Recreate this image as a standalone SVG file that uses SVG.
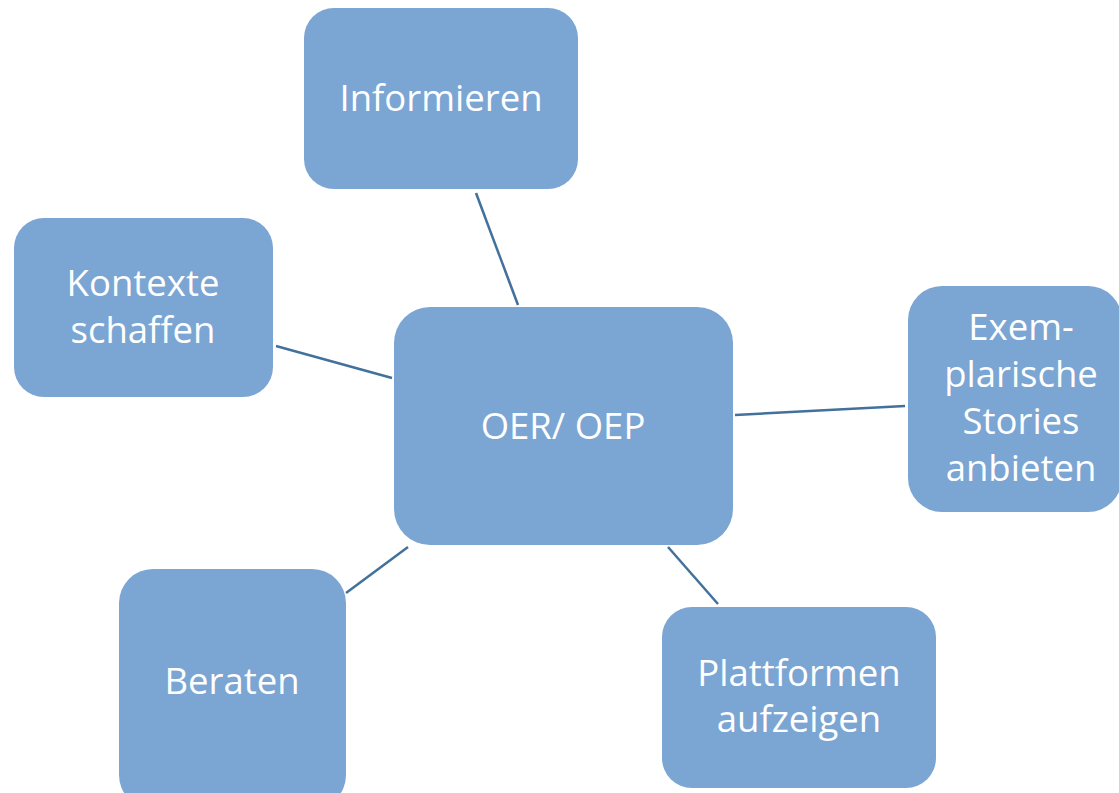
<svg xmlns="http://www.w3.org/2000/svg" width="1119" height="793" viewBox="0 0 1119 793">
<style>
.node{fill:#7BA5D3;}
.lbl{font-family:"Open Sans","Liberation Sans",sans-serif;font-size:36.5px;fill:#ffffff;text-anchor:middle;}
.conn line{stroke:#41719C;stroke-width:2.5;}
</style>
<rect width="1119" height="793" fill="#ffffff"/>
<g class="conn">
<line x1="476" y1="193" x2="518" y2="305"/>
<line x1="276" y1="346" x2="392" y2="378"/>
<line x1="735" y1="415" x2="905" y2="406"/>
<line x1="346" y1="593" x2="408" y2="547"/>
<line x1="668" y1="547" x2="718" y2="604"/>
</g>
<g id="center">
<rect class="node" x="394" y="307" width="339" height="238" rx="36"/>
<text class="lbl" x="563" y="439">OER/ OEP</text>
</g>
<g id="informieren">
<rect class="node" x="304" y="8" width="274" height="181" rx="30"/>
<text class="lbl" x="441" y="111">Informieren</text>
</g>
<g id="kontexte">
<rect class="node" x="14" y="218" width="259" height="179" rx="30"/>
<text class="lbl" x="143" y="296"><tspan x="143" y="296">Kontexte</tspan><tspan x="143" y="343">schaffen</tspan></text>
</g>
<g id="exemplarische">
<rect class="node" x="908" y="286" width="214" height="226" rx="34"/>
<text class="lbl" x="1021" y="340"><tspan x="1021" y="340">Exem-</tspan><tspan x="1021" y="387">plarische</tspan><tspan x="1021" y="434">Stories</tspan><tspan x="1021" y="481">anbieten</tspan></text>
</g>
<g id="beraten">
<rect class="node" x="119" y="569" width="227" height="240" rx="34"/>
<text class="lbl" x="232" y="694">Beraten</text>
</g>
<g id="plattformen">
<rect class="node" x="662" y="607" width="274" height="181" rx="30"/>
<text class="lbl" x="799" y="686"><tspan x="799" y="686">Plattformen</tspan><tspan x="799" y="732">aufzeigen</tspan></text>
</g>
</svg>
